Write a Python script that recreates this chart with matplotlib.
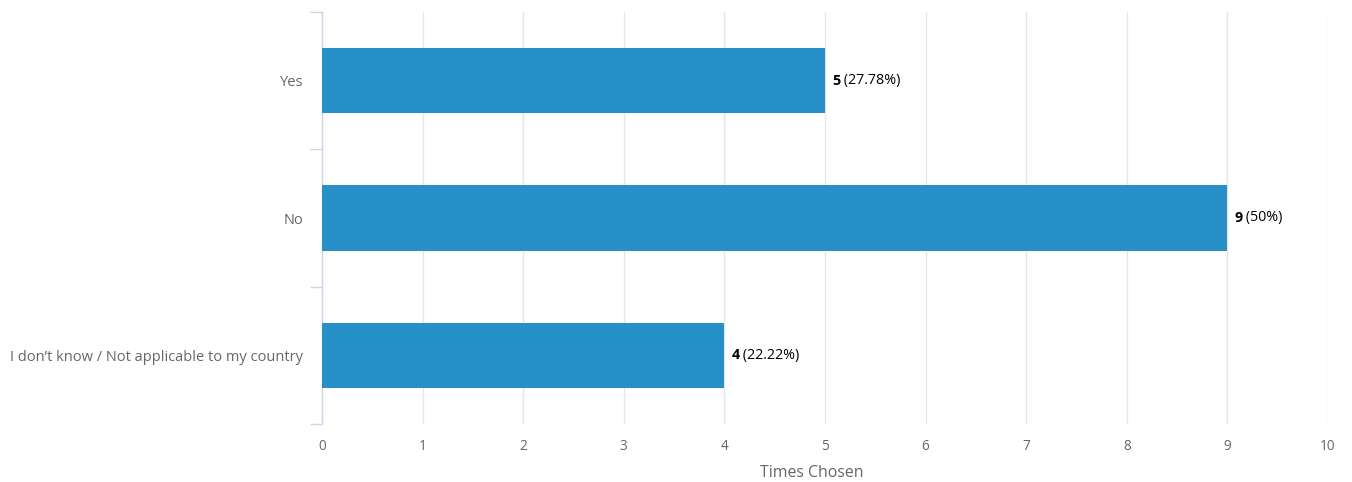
import matplotlib
matplotlib.use("Agg")
import matplotlib.pyplot as plt
from matplotlib.ticker import FixedLocator

plt.rcParams['font.family'] = ['Open Sans', 'DejaVu Sans']

categories = ["Yes", "No", "I don\u2019t know / Not applicable to my country"]
counts = [5, 9, 4]
percent_labels = ["27.78%", "50%", "22.22%"]
x_ticks = list(range(0, 11))

bar_color = "#2790c8"
axis_color = "#ccd6eb"
grid_color = "#e6e6e6"
label_color = "#666666"

fig = plt.figure(figsize=(13.52, 4.82), dpi=100)
ax = fig.add_axes([322 / 1352, 1 - 424 / 482, (1328 - 322) / 1352, (424 - 12) / 482])

positions = list(range(len(categories)))
ax.barh(positions, counts, height=0.475, color=bar_color, zorder=3)

ax.set_xlim(0, 10)
ax.set_ylim(len(categories) - 0.5, -0.5)

ax.set_xticks(x_ticks)
ax.set_xticklabels([str(t) for t in x_ticks])
ax.tick_params(axis='x', length=0, pad=11, labelsize=9.8, labelcolor=label_color)
ax.grid(axis='x', color=grid_color, linewidth=1, zorder=0)

ax.set_yticks(positions)
ax.set_yticklabels(categories)
ax.tick_params(axis='y', which='major', length=0, pad=13.5, labelsize=10.5, labelcolor=label_color)
ax.yaxis.set_minor_locator(FixedLocator([p - 0.5 for p in positions] + [len(categories) - 0.5]))
ax.tick_params(axis='y', which='minor', length=8.5, width=1, color=axis_color)

for side in ['top', 'right', 'bottom']:
    ax.spines[side].set_visible(False)
ax.spines['left'].set_color(axis_color)
ax.spines['left'].set_linewidth(1)

ax.set_xlabel("Times Chosen", fontsize=11.4, color=label_color, labelpad=7.5)
ax.xaxis.label.set_x(0.487)

for pos, cnt, pct in zip(positions, counts, percent_labels):
    t1 = ax.annotate(str(cnt), xy=(cnt, pos), xytext=(5, 0), textcoords='offset points',
                     va='center', ha='left', fontsize=10.3, fontweight='bold', color='black')
    ax.annotate(f" ({pct})", xy=(1, 0.5), xycoords=t1, va='center', ha='left',
                fontsize=10.3, color='black')

fig.savefig("out.png", dpi=100)
